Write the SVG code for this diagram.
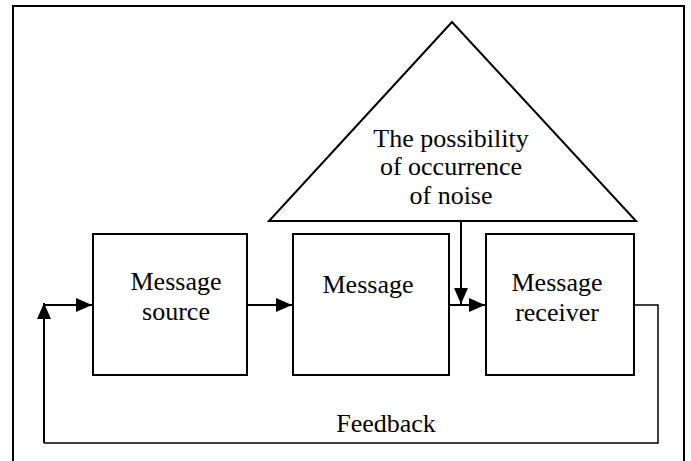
<svg xmlns="http://www.w3.org/2000/svg" width="691" height="461" viewBox="0 0 691 461">
<style>
.box{fill:#fff;stroke:#000;stroke-width:2}
.t{font-family:"Liberation Serif","Times New Roman",serif;font-size:26px;fill:#000;text-anchor:middle}
.ln{fill:none;stroke:#000;stroke-width:2}
.thin{fill:none;stroke:#000;stroke-width:1.5}
</style>
<defs>
<marker id="ah" viewBox="0 0 16 14" refX="16" refY="7" markerWidth="16" markerHeight="14" markerUnits="userSpaceOnUse" orient="auto">
<path d="M0,0 L16,7 L0,14 Z" fill="#000"/>
</marker>
</defs>
<rect x="0" y="0" width="691" height="461" fill="#fff"/>
<path d="M13,470 V6 H684 V470" fill="none" stroke="#000" stroke-width="2"/>
<g id="noise">
<polygon class="box" points="452,22 269,221 636,221" stroke-width="1.5"/>
<text class="t" x="451" y="147">The possibility</text>
<text class="t" x="451" y="175">of occurrence</text>
<text class="t" x="451" y="204">of noise</text>
</g>
<g id="source">
<rect class="box" x="93" y="234" width="154" height="141"/>
<text class="t" x="176" y="290">Message</text>
<text class="t" x="176" y="320">source</text>
</g>
<g id="message">
<rect class="box" x="293" y="234" width="156" height="141"/>
<text class="t" x="368" y="293">Message</text>
</g>
<g id="receiver">
<rect class="box" x="486" y="234" width="148" height="141"/>
<text class="t" x="557" y="291">Message</text>
<text class="t" x="557" y="321">receiver</text>
</g>
<g id="connectors">
<line class="ln" x1="44" y1="305" x2="92" y2="305" marker-end="url(#ah)"/>
<line class="ln" x1="247" y1="305" x2="292" y2="305" marker-end="url(#ah)"/>
<line class="ln" x1="449" y1="305" x2="485" y2="305" marker-end="url(#ah)"/>
<line class="ln" x1="461" y1="221" x2="461" y2="304" marker-end="url(#ah)"/>
<path class="thin" d="M634,305 H658 V443 H44"/>
<line class="ln" x1="44" y1="443" x2="44" y2="303" marker-end="url(#ah)"/>
<text class="t" x="386" y="432">Feedback</text>
</g>
</svg>
